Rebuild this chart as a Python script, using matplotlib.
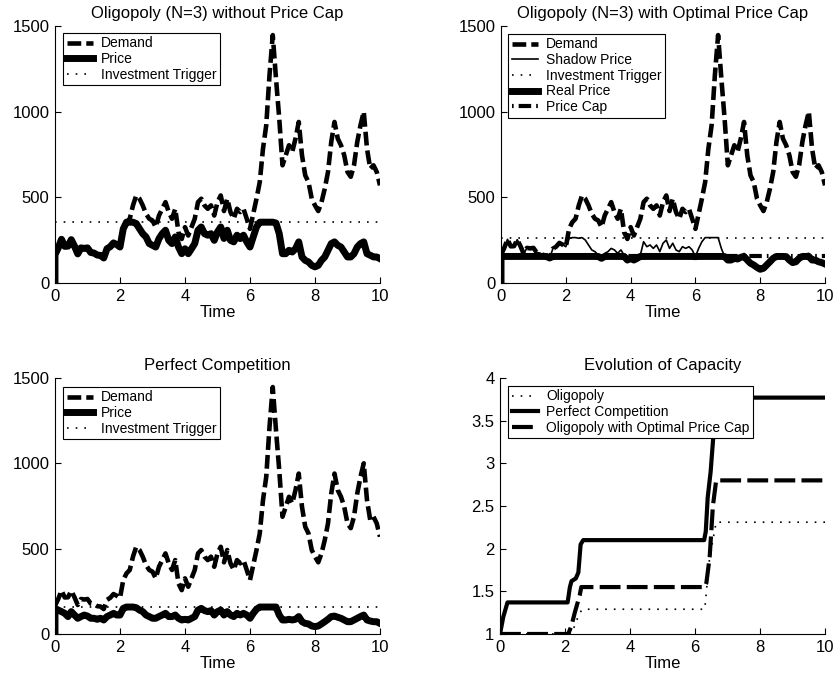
import numpy as np
import matplotlib.pyplot as plt

plt.rcParams['font.family'] = ['Liberation Sans', 'DejaVu Sans']
plt.rcParams['font.size'] = 12

# simulated time grid
t = np.linspace(0, 10, 101)

demand = [165, 205, 255, 214, 215, 253, 215, 170, 205, 202,
          205, 178, 175, 163, 161, 146, 200, 212, 234, 224,
          210, 316, 355, 375, 453, 511, 492, 453, 404, 375,
          365, 326, 394, 433, 472, 414, 375, 433, 296, 257,
          326, 277, 326, 375, 472, 492, 453, 433, 453, 394,
          472, 511, 420, 492, 414, 375, 433, 414, 433, 375,
          316, 404, 492, 589, 784, 921, 1213, 1447, 1194, 960,
          687, 745, 804, 765, 843, 940, 745, 628, 589, 492,
          453, 420, 472, 550, 648, 823, 940, 843, 804, 745,
          648, 620, 687, 823, 921, 1000, 784, 667, 687, 648,
          570]

price_oligo = [165, 205, 255, 214, 215, 253, 215, 170, 205, 202,
               205, 178, 175, 163, 161, 146, 200, 212, 234, 224,
               210, 316, 355, 355, 355, 347, 317, 288, 269, 230,
               220, 210, 259, 288, 308, 249, 230, 269, 210, 171,
               200, 171, 200, 230, 308, 327, 288, 279, 288, 249,
               298, 327, 260, 308, 249, 240, 279, 259, 279, 240,
               210, 269, 327, 355, 355, 355, 355, 355, 350, 288,
               171, 171, 191, 181, 200, 240, 152, 132, 123, 103,
               94, 103, 132, 152, 191, 230, 240, 220, 210, 181,
               152, 152, 171, 210, 230, 240, 171, 162, 152, 152,
               142]

shadow_price = [165, 205, 255, 214, 215, 253, 215, 170, 205, 202,
                205, 178, 175, 163, 161, 146, 200, 212, 234, 224,
                212, 261, 265, 265, 261, 265, 251, 222, 193, 183,
                163, 144, 173, 183, 202, 193, 173, 193, 163, 134,
                144, 134, 144, 163, 241, 212, 222, 202, 222, 183,
                232, 251, 202, 232, 193, 183, 212, 202, 212, 193,
                154, 202, 241, 265, 265, 265, 265, 265, 202, 154,
                134, 134, 144, 140, 150, 173, 134, 115, 105, 91,
                80, 86, 105, 124, 144, 163, 163, 158, 154, 134,
                119, 124, 144, 158, 169, 173, 134, 134, 124, 119,
                111]

price_pc = [150, 140, 131, 121, 102, 131, 111, 92, 102, 111,
            105, 92, 92, 86, 92, 82, 102, 111, 121, 111,
            111, 150, 158, 158, 158, 154, 140, 131, 111, 102,
            92, 92, 102, 111, 121, 102, 102, 111, 92, 82,
            86, 82, 92, 102, 140, 150, 137, 131, 137, 111,
            131, 140, 111, 131, 111, 102, 121, 111, 121, 111,
            92, 121, 145, 158, 158, 158, 158, 158, 158, 111,
            82, 82, 86, 82, 86, 102, 72, 62, 59, 47,
            43, 47, 59, 72, 86, 102, 105, 98, 92, 82,
            72, 72, 82, 92, 102, 111, 82, 76, 72, 72,
            62]

trigger_oligo = 355
trigger_cap = 265
trigger_pc = 158
price_cap = 155

# capacity paths (time of change, level)
t_k_oligo = [0, 2.2, 2.3, 2.45, 2.55, 6.3, 6.35, 6.45, 6.55, 6.65, 10]
k_oligo = [1, 1, 1.1, 1.25, 1.29, 1.29, 1.5, 1.9, 2.1, 2.31, 2.31]
t_k_pc = [0, 0.1, 0.23, 2.08, 2.15, 2.2, 2.33, 2.41, 2.48, 2.56,
          6.28, 6.33, 6.39, 6.48, 6.56, 6.62, 6.68, 10]
k_pc = [1, 1.2, 1.37, 1.37, 1.55, 1.62, 1.65, 1.72, 2.05, 2.1,
        2.1, 2.2, 2.6, 2.9, 3.3, 3.6, 3.77, 3.77]
t_k_cap = [0, 2.1, 2.2, 2.3, 2.45, 2.5, 6.3, 6.35, 6.45, 6.5, 6.55, 6.65, 10]
k_cap = [1, 1, 1.1, 1.25, 1.45, 1.55, 1.55, 1.6, 1.9, 2.2, 2.5, 2.8, 2.8]

tp = np.r_[0, t]  # prices start from zero at t=0

dem_style = dict(color='k', lw=3.3, dashes=(3, 1.1), solid_joinstyle='miter')
trig_style = dict(color='k', lw=1.2, dashes=(1, 4.2))


def style_axes(ax, ylim, yticks):
    ax.set_xlim(0, 10)
    ax.set_ylim(*ylim)
    ax.set_xticks(range(0, 11, 2))
    ax.set_yticks(yticks)
    ax.spines['top'].set_visible(False)
    ax.spines['right'].set_visible(False)
    ax.tick_params(direction='in', length=4, pad=4, labelsize=12)
    ax.set_xlabel('Time', fontsize=12, labelpad=1)


def add_legend(ax, x, y):
    leg = ax.legend(loc='upper left', bbox_to_anchor=(x, y), borderaxespad=0,
                    fontsize=10, fancybox=False, framealpha=1, edgecolor='k',
                    handlelength=1.9, handletextpad=0.6, labelspacing=0.12,
                    borderpad=0.25)
    leg.get_frame().set_linewidth(0.8)
    leg.set_zorder(10)


fig = plt.figure(figsize=(8.37, 6.79), dpi=100)

ax1 = fig.add_axes([0.0657, 0.5832, 0.3883, 0.3785])
ax1.plot(t, demand, label='Demand', **dem_style)
ax1.plot(tp, np.r_[0, price_oligo], 'k-', lw=5, label='Price', zorder=3)
ax1.axhline(trigger_oligo, label='Investment Trigger', zorder=2, **trig_style)
style_axes(ax1, (0, 1500), [0, 500, 1000, 1500])
ax1.set_title('Oligopoly (N=3) without Price Cap', fontsize=12, pad=6)
add_legend(ax1, 0.025, 0.973)

ax2 = fig.add_axes([0.5986, 0.5832, 0.3871, 0.3785])
ax2.plot(t, demand, label='Demand', **dem_style)
ax2.plot(tp, np.r_[0, shadow_price], 'k-', lw=1.2, label='Shadow Price')
ax2.axhline(trigger_cap, label='Investment Trigger', **trig_style)
ax2.plot(tp, np.r_[0, np.minimum(shadow_price, price_cap)], 'k-', lw=5,
         label='Real Price')
ax2.axhline(price_cap, color='k', lw=3, dashes=(0.4, 1.2, 3, 1.2),
            label='Price Cap')
style_axes(ax2, (0, 1500), [0, 500, 1000, 1500])
ax2.set_title('Oligopoly (N=3) with Optimal Price Cap', fontsize=12, pad=6)
add_legend(ax2, 0.022, 0.969)

ax3 = fig.add_axes([0.0657, 0.0663, 0.3883, 0.3770])
ax3.plot(t, demand, label='Demand', **dem_style)
ax3.plot(tp, np.r_[0, price_pc], 'k-', lw=5, label='Price', zorder=3)
ax3.axhline(trigger_pc, label='Investment Trigger', zorder=2, **trig_style)
style_axes(ax3, (0, 1500), [0, 500, 1000, 1500])
ax3.set_title('Perfect Competition', fontsize=12, pad=6)
add_legend(ax3, 0.025, 0.965)

ax4 = fig.add_axes([0.5974, 0.0663, 0.3883, 0.3770])
ax4.plot(t_k_oligo, k_oligo, 'k', lw=1.2, dashes=(1, 4.2), label='Oligopoly')
ax4.plot(t_k_pc, k_pc, 'k-', lw=3, label='Perfect Competition')
ax4.plot(t_k_cap, k_cap, 'k', lw=3, dashes=(5, 1.5),
         label='Oligopoly with Optimal Price Cap')
style_axes(ax4, (1, 4), [1, 1.5, 2, 2.5, 3, 3.5, 4])
ax4.set_yticklabels(['1', '1.5', '2', '2.5', '3', '3.5', '4'])
ax4.set_title('Evolution of Capacity', fontsize=12, pad=6)
add_legend(ax4, 0.025, 0.969)

fig.savefig('out.png', dpi=100)
